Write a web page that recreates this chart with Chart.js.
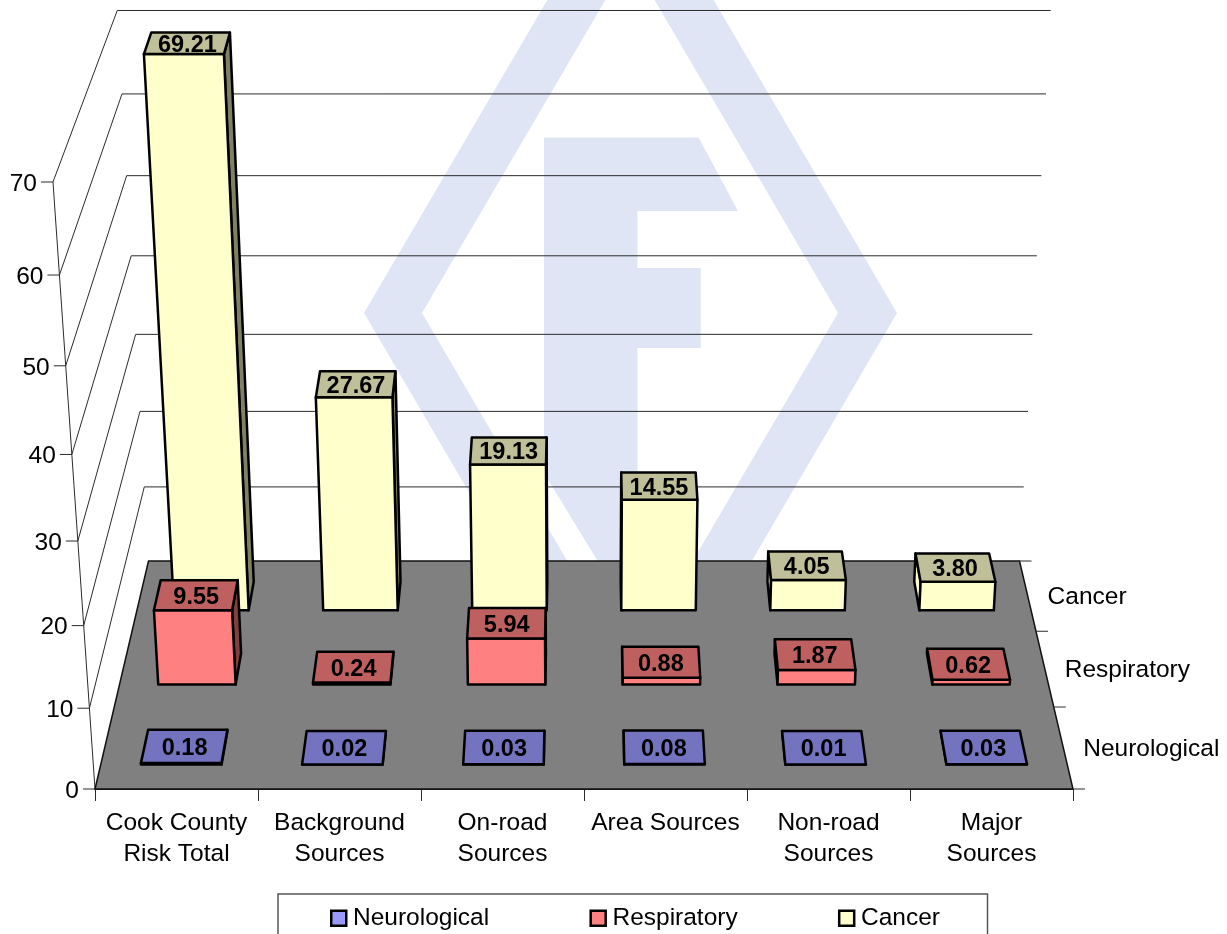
<!DOCTYPE html>
<html>
<head>
<meta charset="utf-8">
<title>Risk by source category</title>
<style>
  html, body { margin: 0; padding: 0; background: #fff; overflow: hidden; }
  canvas { display: block; }
</style>
<script src="https://cdn.jsdelivr.net/npm/chart.js@4"></script>
</head>
<body>
<canvas id="chart" width="1227" height="934"></canvas>
<script>
// Source categories along the front of the floor
const categories = [
  ['Cook County', 'Risk Total'],
  ['Background', 'Sources'],
  ['On-road', 'Sources'],
  'Area Sources',
  ['Non-road', 'Sources'],
  ['Major', 'Sources']
];

// Risk values per series, front row to back row
const neurological = [0.18, 0.02, 0.03, 0.08, 0.01, 0.03];
const respiratory  = [9.55, 0.24, 5.94, 0.88, 1.87, 0.62];
const cancer       = [69.21, 27.67, 19.13, 14.55, 4.05, 3.80];

const seriesNames = ['Neurological', 'Respiratory', 'Cancer'];
const frontColors = ['#9999ff', '#ff8080', '#ffffcc'];
const topColors   = ['#7373bf', '#bf6060', '#bfbf99'];
const sideColors  = ['#4d4d80', '#804040', '#808066'];

const FONT = '"Liberation Sans", Arial, sans-serif';
const TEXT_SIZE = 24.5;
const LABEL_SIZE = 23.5;

// Perspective of the box: how depth and height shrink and shift the front plane
const DEPTH_SCALE = 0.1228;
const HEIGHT_SCALE = -0.0791;
const CROSS_SCALE = 0.004;
const DEPTH_RISE = -159.1;
const HEIGHT_RISE = -621.4;
const CROSS_RISE = 2.5;
const BAR_FRONT = 0.07;
const BAR_BACK = 0.066;
const TICK = 12;

function projector(chart) {
  const a = chart.chartArea;
  const cx = (a.left + a.right) / 2;
  return (px, py, d) => {
    const v = (a.bottom - py) / (a.bottom - a.top);
    const w = 1 + DEPTH_SCALE * d + HEIGHT_SCALE * v + CROSS_SCALE * d * v;
    return {
      x: cx + (px - cx) / w,
      y: (a.bottom + DEPTH_RISE * d + HEIGHT_RISE * v + CROSS_RISE * d * v) / w
    };
  };
}

function poly(ctx, pts, fill) {
  ctx.beginPath();
  pts.forEach((p, i) => i ? ctx.lineTo(p.x, p.y) : ctx.moveTo(p.x, p.y));
  ctx.closePath();
  if (fill) { ctx.fillStyle = fill; ctx.fill(); }
  ctx.stroke();
}

function segment(ctx, a, b) {
  ctx.beginPath();
  ctx.moveTo(a.x, a.y);
  ctx.lineTo(b.x, b.y);
  ctx.stroke();
}

// Pale emblem behind the plot: a diamond ring with a letter F
function drawEmblem(ctx) {
  ctx.save();
  ctx.fillStyle = '#dfe5f5';
  ctx.beginPath();
  [[364, 313], [630.5, -142], [897, 313], [630.5, 768]].forEach((p, i) => i ? ctx.lineTo(p[0], p[1]) : ctx.moveTo(p[0], p[1]));
  ctx.closePath();
  [[422, 313], [630, 668], [838, 313], [630, -42]].forEach((p, i) => i ? ctx.lineTo(p[0], p[1]) : ctx.moveTo(p[0], p[1]));
  ctx.closePath();
  ctx.fill();
  ctx.beginPath();
  [[544, 137.5], [698.6, 137.5], [738, 211], [637.5, 211], [637.5, 268], [700.7, 268], [700.7, 348],
   [637.5, 348], [637.5, 626], [597, 560], [544, 473]].forEach((p, i) => i ? ctx.lineTo(p[0], p[1]) : ctx.moveTo(p[0], p[1]));
  ctx.closePath();
  ctx.fill();
  ctx.restore();
}

const box3d = {
  id: 'box3d',
  beforeDraw(chart) {
    drawEmblem(chart.ctx);
    // The legend sits in a fixed frame under the axis labels
    const lg = chart.legend;
    const pad = lg.options.labels.padding;
    lg.left = 336.75 - pad;
    lg.right = 1227;
    lg.top = 906 - pad;
    lg.bottom = 934;
    lg.width = lg.right - lg.left;
    lg.height = lg.bottom - lg.top;
  },
  beforeDatasetsDraw(chart) {
    const { ctx, chartArea: a, scales: { y } } = chart;
    const p = projector(chart);
    ctx.save();
    ctx.strokeStyle = '#2a2a2a';
    ctx.lineWidth = 1;
    ctx.fillStyle = '#000';
    ctx.font = TEXT_SIZE + 'px ' + FONT;
    ctx.textAlign = 'right';
    ctx.textBaseline = 'middle';

    // Back wall grid, left wall lines, value ticks and labels
    y.ticks.forEach(t => {
      const py = y.getPixelForValue(t.value);
      const front = p(a.left, py, 0);
      const back = p(a.left, py, 1);
      const backR = p(a.right, py, 1);
      if (t.value > 0) {
        segment(ctx, front, back);
        segment(ctx, back, backR);
      }
      segment(ctx, front, { x: front.x - TICK, y: front.y });
      ctx.fillText(String(t.value), front.x - TICK - 4, front.y + 2);
    });
    segment(ctx, p(a.left, a.bottom, 0), p(a.left, a.top, 0));

    // Floor
    ctx.lineWidth = 1.5;
    ctx.strokeStyle = '#111';
    poly(ctx, [p(a.left, a.bottom, 0), p(a.right, a.bottom, 0), p(a.right, a.bottom, 1), p(a.left, a.bottom, 1)], '#808080');

    // Depth ticks and series names on the right edge
    ctx.lineWidth = 1;
    ctx.strokeStyle = '#2a2a2a';
    for (let i = 0; i <= seriesNames.length; i++) {
      const q = p(a.right, a.bottom, i / seriesNames.length);
      segment(ctx, q, { x: q.x + TICK, y: q.y });
    }
    ctx.fillStyle = '#000';
    ctx.textAlign = 'left';
    seriesNames.forEach((name, i) => {
      const q = p(a.right, a.bottom, (i + 0.5) / seriesNames.length);
      ctx.fillText(name, q.x + 20, q.y + 2);
    });
    ctx.restore();
  },
  // Each series is one row of boxes, drawn back to front
  beforeDatasetDraw(chart, args) {
    const { ctx, chartArea: a } = chart;
    const p = projector(chart);
    const cx = (a.left + a.right) / 2;
    const i = args.index;
    const dc = (i + 0.5) / seriesNames.length;
    const d0 = dc - BAR_FRONT, d1 = dc + BAR_BACK;
    ctx.save();
    ctx.strokeStyle = '#000';
    ctx.lineWidth = 2.5;
    ctx.lineJoin = 'round';
    args.meta.data.forEach((el, k) => {
      const L = el.x - el.width / 2, R = el.x + el.width / 2;
      const T = el.y, B = el.base;
      if (L > cx) poly(ctx, [p(L, B, d0), p(L, B, d1), p(L, T, d1), p(L, T, d0)], frontColors[i]);
      if (R < cx) poly(ctx, [p(R, B, d0), p(R, B, d1), p(R, T, d1), p(R, T, d0)], sideColors[i]);
      poly(ctx, [p(L, B, d0), p(R, B, d0), p(R, T, d0), p(L, T, d0)], frontColors[i]);
      const top = [p(L, T, d0), p(R, T, d0), p(R, T, d1), p(L, T, d1)];
      poly(ctx, top, topColors[i]);

      // The value sits on the top face
      const value = chart.data.datasets[i].data[k];
      ctx.fillStyle = '#000';
      ctx.font = 'bold ' + LABEL_SIZE + 'px ' + FONT;
      ctx.textAlign = 'center';
      ctx.textBaseline = 'middle';
      const c = p(el.x, T, dc);
      ctx.fillText(value.toFixed(2), c.x, (top[0].y + top[3].y) / 2 + 2);
    });
    ctx.restore();
    return false;
  },
  afterDraw(chart) {
    const ctx = chart.ctx;
    ctx.save();
    ctx.strokeStyle = '#555';
    ctx.lineWidth = 1.5;
    ctx.strokeRect(278, 894, 709.5, 60);
    ctx.restore();
  }
};

function seriesDataset(label, data, i) {
  return {
    label,
    data,
    backgroundColor: frontColors[i],
    borderColor: '#000',
    borderWidth: 2.5,
    barPercentage: 0.5,
    categoryPercentage: 1,
    grouped: false
  };
}

new Chart(document.getElementById('chart'), {
  type: 'bar',
  data: {
    labels: categories,
    datasets: [
      seriesDataset(seriesNames[0], neurological, 0),
      seriesDataset(seriesNames[1], respiratory, 1),
      seriesDataset(seriesNames[2], cancer, 2)
    ]
  },
  plugins: [box3d],
  options: {
    responsive: false,
    animation: false,
    events: [],
    layout: { padding: { left: 95, right: 154, top: 182, bottom: 35 } },
    scales: {
      x: {
        afterFit(scale) { scale.height = 90; },
        border: { color: '#2a2a2a' },
        grid: { drawOnChartArea: false, tickLength: 12, color: '#2a2a2a' },
        ticks: {
          color: '#000',
          padding: 7,
          maxRotation: 0,
          autoSkip: false,
          font: { family: FONT, size: TEXT_SIZE, lineHeight: 1.25 }
        }
      },
      y: { display: false, min: 0, max: 70, ticks: { stepSize: 10 } }
    },
    plugins: {
      tooltip: { enabled: false },
      legend: {
        position: 'bottom',
        align: 'start',
        maxHeight: 20,
        labels: {
          color: '#000',
          font: { family: FONT, size: TEXT_SIZE },
          usePointStyle: true,
          pointStyle: 'rect',
          boxWidth: 4,
          boxHeight: 15,
          padding: 107
        }
      }
    }
  }
});
</script>
</body>
</html>
